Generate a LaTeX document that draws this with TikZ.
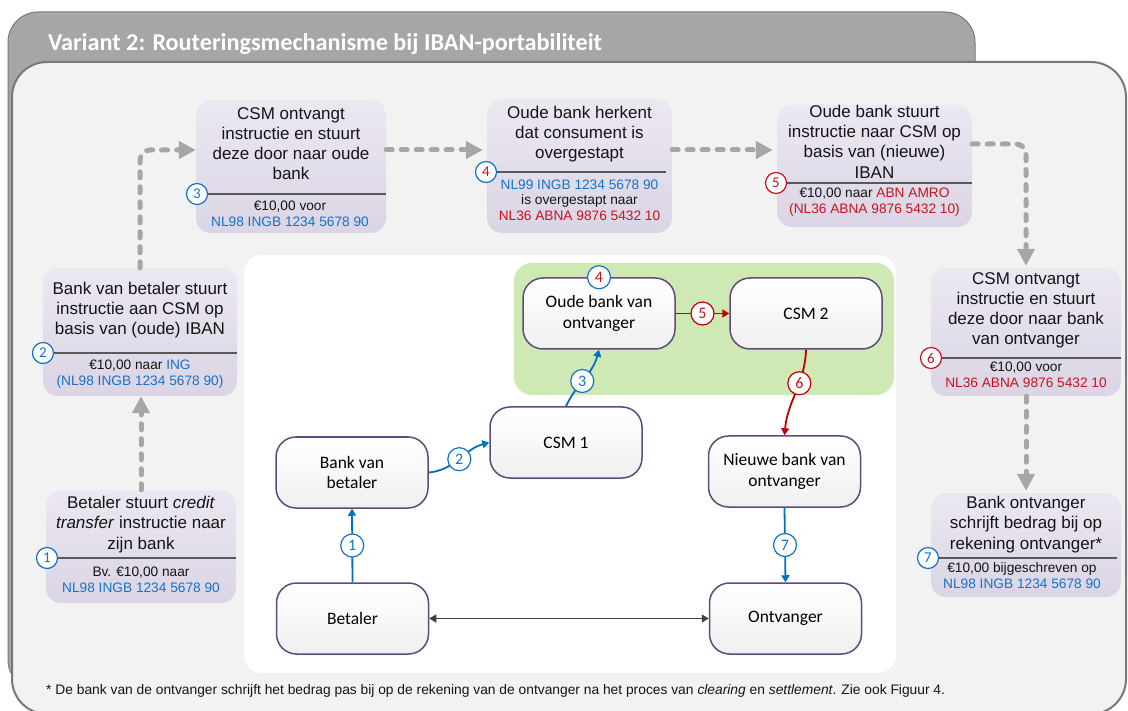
\documentclass[tikz,border=0pt]{standalone}
\usepackage{fontspec}
\setmainfont{Liberation Sans}
\newfontfamily\calib{Carlito}
\usetikzlibrary{arrows.meta,calc}

\definecolor{tabgray}{RGB}{166,166,166}
\definecolor{tabedge}{RGB}{120,120,120}
\definecolor{panelbg}{RGB}{242,242,242}
\definecolor{paneledge}{RGB}{120,120,120}
\definecolor{boxtop}{RGB}{236,232,242}
\definecolor{boxbot}{RGB}{218,212,228}
\definecolor{ibanblue}{RGB}{22,114,196}
\definecolor{ibanred}{RGB}{200,20,30}
\definecolor{linkblue}{RGB}{0,112,192}
\definecolor{linkred}{RGB}{192,0,0}
\definecolor{nodeedge}{RGB}{96,74,123}
\definecolor{greenzone}{RGB}{207,233,180}
\definecolor{flowgray}{RGB}{166,166,166}
\definecolor{sepgray}{RGB}{89,89,89}
\definecolor{linkgray}{RGB}{64,64,64}
\definecolor{txt}{RGB}{20,20,20}

\tikzset{
  stepbox/.style={rectangle, rounded corners=15pt, top color=boxtop, bottom color=boxbot, draw=none, inner sep=0},
  ttl/.style={anchor=base, inner sep=0, text=txt, font=\fontsize{17}{20}\selectfont},
  dtl/.style={anchor=base, inner sep=0, text=txt, font=\fontsize{13.7}{16}\selectfont},
  sepline/.style={draw=sepgray, line width=1.4pt},
  stepnum/.style={circle, fill=white, line width=1.2pt, inner sep=0, minimum size=21pt, font=\calib\fontsize{15}{15}\selectfont},
  numc/.style={circle, fill=white, line width=1.2pt, inner sep=0, minimum size=23pt, font=\calib\fontsize{16}{16}\selectfont},
  flownode/.style={rectangle, draw=nodeedge, line width=1.5pt, rounded corners=20pt, top color=white, bottom color=black!6,
    minimum width=152pt, minimum height=71pt, align=center, text=black, font=\calib\fontsize{17.5}{20.5}\selectfont},
  flow/.style={draw=flowgray, line width=5pt, line cap=round, dash pattern=on 6pt off 9pt, rounded corners=10pt,
    -{Triangle[length=17pt,width=17pt]}},
  bluelink/.style={draw=linkblue, line width=1.8pt, -{Triangle[length=7pt,width=8pt]}},
  redlink/.style={draw=linkred, line width=1.8pt, -{Triangle[length=7pt,width=8pt]}},
  graylink/.style={draw=linkgray, line width=1.5pt, {Triangle[length=7pt,width=8pt]}-{Triangle[length=7pt,width=8pt]}},
}

\begin{document}
\begin{tikzpicture}[x=1pt,y=-1pt]
\useasboundingbox (0,0) rectangle (1128,711);

% header tab and main panel
\draw[fill=tabgray, draw=tabedge, line width=1pt, rounded corners=30pt] (8,12) rectangle (975,690);
\node[anchor=base west, inner sep=0, text=white, font=\calib\bfseries\fontsize{24.2}{28}\selectfont] (hdr) at (48,51)
  {Variant 2: Routeringsmechanisme bij IBAN-portabiliteit};
\draw[fill=panelbg, draw=paneledge, line width=2pt, rounded corners=35pt] (12,62) rectangle (1126,714);

% schematic area
\fill[white, rounded corners=18pt] (244,255) rectangle (896,673);
\fill[greenzone, rounded corners=18pt] (514,263) rectangle (894,395);

% ---------- step boxes ----------
\node[stepbox, minimum width=190pt, minimum height=113pt] (s1) at (141,546.5) {};
\node[stepbox, minimum width=194pt, minimum height=128pt] (s2) at (140,332) {};
\node[stepbox, minimum width=190pt, minimum height=133pt] (s3) at (291,166.5) {};
\node[stepbox, minimum width=185pt, minimum height=134pt] (s4) at (579.5,166) {};
\node[stepbox, minimum width=195pt, minimum height=122pt] (s5) at (874.5,166) {};
\node[stepbox, minimum width=190pt, minimum height=128pt] (s6) at (1026,332) {};
\node[stepbox, minimum width=190pt, minimum height=104pt] (s7) at (1026,545) {};

% step 1
\node[ttl] (s1a) at (141,508) {Betaler stuurt \textit{credit}};
\node[ttl] (s1b) at (141,528) {\textit{transfer} instructie naar};
\node[ttl] (s1c) at (141,549) {zijn bank};
\node[stepnum, draw=ibanblue, text=ibanblue] (c1) at (47,558) {1};
\draw[sepline] (c1.east) -- (s1.east |- c1);
\node[dtl] (d1a) at (141,576) {Bv. €10,00 naar};
\node[dtl, text=ibanblue] (d1b) at (141,592) {NL98 INGB 1234 5678 90};

% step 2
\node[ttl] (s2a) at (140,295) {Bank van betaler stuurt};
\node[ttl] (s2b) at (140,315) {instructie aan CSM op};
\node[ttl] (s2c) at (140,335) {basis van (oude) IBAN};
\node[stepnum, draw=ibanblue, text=ibanblue] (c2) at (43,353) {2};
\draw[sepline] (c2.east) -- (s2.east |- c2);
\node[dtl] (d2a) at (140,370) {€10,00 naar \textcolor{ibanblue}{ING}};
\node[dtl, text=ibanblue] (d2b) at (140,386) {(NL98 INGB 1234 5678 90)};

% step 3
\node[ttl] (s3a) at (291,120) {CSM ontvangt};
\node[ttl] (s3b) at (291,140) {instructie en stuurt};
\node[ttl] (s3c) at (291,160) {deze door naar oude};
\node[ttl] (s3d) at (291,180) {bank};
\node[stepnum, draw=ibanblue, text=ibanblue] (c3) at (197,194) {3};
\draw[sepline] (c3.east) -- (s3.east |- c3);
\node[dtl] (d3a) at (290,211) {€10,00 voor};
\node[dtl, text=ibanblue] (d3b) at (290,227) {NL98 INGB 1234 5678 90};

% step 4
\node[ttl] (s4a) at (579.5,119) {Oude bank herkent};
\node[ttl] (s4b) at (579.5,139) {dat consument is};
\node[ttl] (s4c) at (579.5,159) {overgestapt};
\node[stepnum, draw=ibanblue, text=ibanred] (c4) at (486,172) {4};
\draw[sepline] (c4.east) -- ([xshift=-6pt]s4.east |- c4);
\node[dtl, text=ibanblue] (d4a) at (579.5,190) {NL99 INGB 1234 5678 90};
\node[dtl] (d4b) at (579.5,205) {is overgestapt naar};
\node[dtl, text=ibanred] (d4c) at (579.5,221) {NL36 ABNA 9876 5432 10};

% step 5
\node[ttl] (s5a) at (874.5,118) {Oude bank stuurt};
\node[ttl] (s5b) at (874.5,138) {instructie naar CSM op};
\node[ttl] (s5c) at (874.5,158) {basis van (nieuwe)};
\node[ttl] (s5d) at (874.5,179) {IBAN};
\node[stepnum, draw=ibanred, text=ibanred] (c5) at (776,183) {5};
\draw[sepline] (c5.east) -- (s5.east |- c5);
\node[dtl] (d5a) at (874.5,198) {€10,00 naar \textcolor{ibanred}{ABN AMRO}};
\node[dtl, text=ibanred] (d5b) at (874.5,214) {(NL36 ABNA 9876 5432 10)};

% step 6
\node[ttl] (s6a) at (1026,285) {CSM ontvangt};
\node[ttl] (s6b) at (1026,305) {instructie en stuurt};
\node[ttl] (s6c) at (1026,325) {deze door naar bank};
\node[ttl] (s6d) at (1026,345) {van ontvanger};
\node[stepnum, draw=ibanred, text=ibanred] (c6) at (931,358) {6};
\draw[sepline] (c6.east) -- (s6.east |- c6);
\node[dtl] (d6a) at (1026,372) {€10,00 voor};
\node[dtl, text=ibanred] (d6b) at (1026,388) {NL36 ABNA 9876 5432 10};

% step 7
\node[ttl] (s7a) at (1026,508) {Bank ontvanger};
\node[ttl] (s7b) at (1026,528) {schrijft bedrag bij op};
\node[ttl] (s7c) at (1026,549) {rekening ontvanger*};
\node[stepnum, draw=ibanblue, text=ibanblue] (c7) at (928,558) {7};
\draw[sepline] (c7.east) -- ([xshift=-4pt]s7.east |- c7);
\node[dtl] (d7a) at (1022,572) {€10,00 bijgeschreven op};
\node[dtl, text=ibanblue] (d7b) at (1022,588) {NL98 INGB 1234 5678 90};

% dashed flow between the steps
\draw[flow] (s1.north) -- (s1.north |- s2.south);
\draw[flow] (s2.north) |- ([yshift=16.5pt]s3.west);
\draw[flow] ([yshift=16.5pt]s3.east) -- ([yshift=16.5pt,xshift=-4pt]s3.east -| s4.west);
\draw[flow] ([yshift=16pt]s4.east) -- ([yshift=16pt,xshift=-4pt]s4.east -| s5.west);
\draw[flow] ([yshift=22pt]s5.east) -| ([yshift=2pt]s6.north);
\draw[flow] (s6.south) -- ([yshift=2pt]s7.north);

% ---------- schematic ----------
\node[flownode] (oude) at (599,313.5) {Oude bank van\\ontvanger};
\node[flownode] (csm2) at (806,313.5) {CSM 2};
\node[flownode] (csm1) at (566,442.5) {CSM 1};
\node[flownode] (bvb) at (352,472.5) {Bank van\\betaler};
\node[flownode] (nbo) at (784.5,471.5) {Nieuwe bank van\\ontvanger};
\node[flownode] (bet) at (352.5,618.5) {Betaler};
\node[flownode] (ont) at (785.5,618.5) {Ontvanger};

\draw[bluelink] (bet.north) -- node[numc, draw=ibanblue, text=ibanblue] (n1) {1} (bvb.south);
\draw[bluelink] (bvb.east) to[out=5,in=195] node[numc, draw=ibanblue, text=ibanblue] (n2) {2} (csm1.west);
\draw[bluelink] (csm1.north) to[out=65,in=-105] node[pos=0.45, numc, draw=ibanblue, text=ibanblue] (n3) {3} (oude.south);
\node[numc, draw=ibanblue, text=ibanred] (n4) at (oude.north) {4};
\draw[redlink] (oude.east) -- node[numc, draw=linkred, text=ibanred] (n5) {5} (csm2.west);
\draw[redlink] (csm2.south) to[out=-92,in=85] node[pos=0.38, numc, draw=linkred, text=ibanred] (n6) {6} (nbo.north);
\draw[bluelink] (nbo.south) -- node[numc, draw=ibanblue, text=ibanblue] (n7) {7} (ont.north);
\draw[graylink] (bet.east) -- (ont.west);

% footnote
\node[anchor=base west, inner sep=0, text=txt, font=\fontsize{13.8}{16}\selectfont] (fn) at (46,694)
  {* De bank van de ontvanger schrijft het bedrag pas bij op de rekening van de ontvanger na het proces van \textit{clearing} en \textit{settlement}. Zie ook Figuur 4.};
\end{tikzpicture}
\end{document}
